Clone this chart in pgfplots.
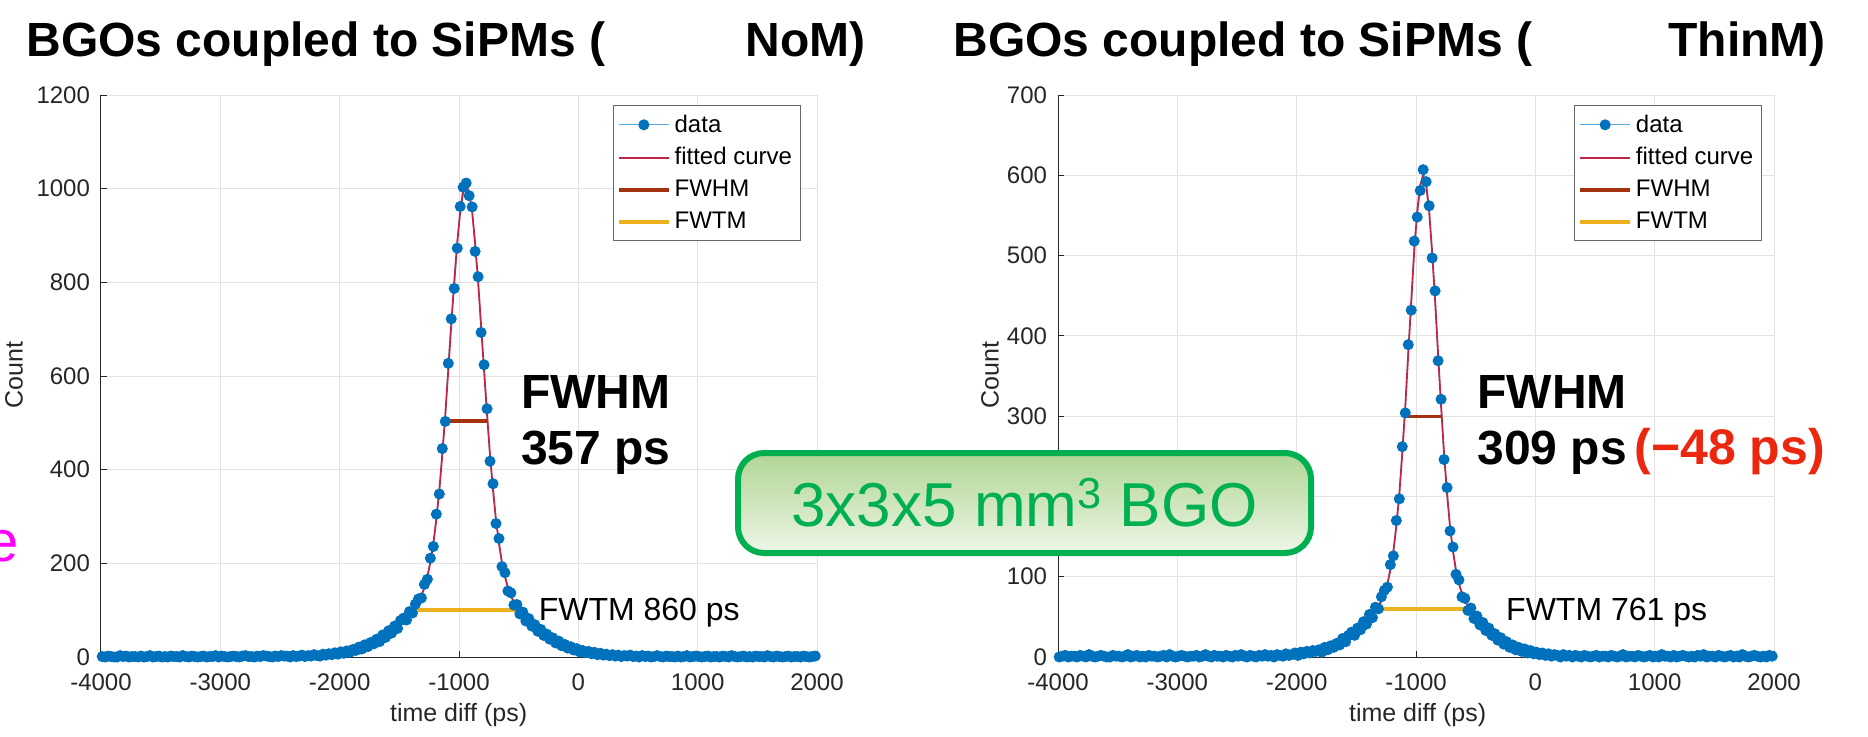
\documentclass[border=0pt]{standalone}
\usepackage{fontspec}
\setmainfont{Liberation Sans}
\usepackage{pgfplots}
\pgfplotsset{compat=1.18}
\definecolor{mblue}{RGB}{0,114,189}
\definecolor{lblue}{RGB}{90,170,225}
\definecolor{fitred}{RGB}{190,40,70}
\definecolor{fwhmc}{RGB}{165,50,15}
\definecolor{fwtmc}{RGB}{237,177,32}
\definecolor{gridc}{RGB}{226,226,226}
\definecolor{axc}{RGB}{38,38,38}
\definecolor{boxg}{RGB}{0,176,80}
\definecolor{boxtop}{RGB}{176,213,148}
\definecolor{boxbot}{RGB}{237,246,231}
\definecolor{redt}{RGB}{235,40,15}
\definecolor{magc}{RGB}{255,0,255}
\pgfplotsset{
 myaxis/.style={
  scale only axis, width=358pt, height=281pt,
  xmin=-4000, xmax=2000, xtick={-4000,-3000,...,2000},
  axis x line*=bottom, axis y line*=left,
  axis line style={axc, line width=0.5pt},
  grid=major, major grid style={gridc, line width=0.5pt},
  tick style={axc, line width=0.5pt}, major tick length=3pt,
  tick align=inside,
  ticklabel style={font=\fontsize{12}{13}\selectfont, text=axc},
  xticklabel style={yshift=-5pt},
  yticklabel style={xshift=-2pt},
  /pgf/number format/assume math mode=true,
  /pgf/number format/1000 sep={},
  scaled ticks=false,
  legend cell align=left,
  legend style={anchor=north east, draw=axc!70, fill=white, line width=0.5pt,
    font=\fontsize{12}{14}\selectfont, inner xsep=2pt, inner ysep=2.5pt, row sep=2.2pt},
  legend image code/.code={\draw[mark repeat=2,mark phase=2,##1] plot coordinates {(0pt,0pt) (12.5pt,0pt) (25pt,0pt)};},
 },
 dataplot/.style={lblue, line width=0.5pt, mark=*, mark size=2.5pt, mark options={draw=mblue, fill=mblue, solid}},
 fitplot/.style={fitred, line width=0.9pt},
}
\begin{document}
\begin{tikzpicture}
\useasboundingbox (0,0) rectangle (934pt,368pt);
% ---------------- left: NoM
\begin{axis}[myaxis, at={(50.5pt,39.5pt)}, anchor=south west,
  ymin=0, ymax=1200, ytick={0,200,...,1200},
  legend style={at={(0.977,0.982)}}]
\addplot[dataplot] coordinates {
(-3990,1)(-3965,0)(-3940,2)(-3915,1)(-3890,0)(-3865,0)(-3840,3)(-3815,1)(-3790,2)(-3765,0)
(-3740,1)(-3715,1)(-3690,0)(-3665,2)(-3640,0)(-3615,1)(-3590,3)(-3565,0)(-3540,1)(-3515,2)
(-3490,0)(-3465,1)(-3440,0)(-3415,2)(-3390,1)(-3365,1)(-3340,0)(-3315,3)(-3290,1)(-3265,0)
(-3240,2)(-3215,1)(-3190,0)(-3165,1)(-3140,2)(-3115,0)(-3090,1)(-3065,1)(-3040,3)(-3015,0)
(-2990,2)(-2965,1)(-2940,0)(-2915,1)(-2890,2)(-2865,1)(-2840,0)(-2815,2)(-2790,3)(-2765,1)
(-2740,1)(-2715,0)(-2690,2)(-2665,1)(-2640,3)(-2615,2)(-2590,1)(-2565,0)(-2540,2)(-2515,1)
(-2490,3)(-2465,2)
(-2440,2)(-2415,0)(-2390,3)(-2365,1)(-2340,2)(-2315,4)(-2290,1)(-2265,3)(-2240,2)(-2215,5)
(-2190,3)(-2165,2)(-2140,6)(-2115,4)(-2090,7)(-2065,5)(-2040,9)(-2015,6)(-1990,11)(-1965,8)
(-1940,13)(-1915,10)(-1890,16)(-1865,14)(-1840,21)(-1815,17)(-1790,26)(-1765,22)(-1740,31)(-1715,28)
(-1690,38)(-1665,33)(-1640,47)(-1615,42)(-1590,56)(-1565,51)(-1540,66)(-1515,61)(-1490,78)(-1465,83)
(-1440,79)(-1415,97)(-1390,94)(-1365,113)(-1340,124)(-1315,126)(-1290,155)(-1265,166)(-1240,211)(-1215,236)
(-1190,305)(-1165,348)(-1140,445)(-1115,503)(-1090,627)(-1065,722)(-1040,787)(-1015,873)(-990,962)(-965,1003)
(-940,1012)
(-915,985)(-890,961)(-865,866)(-840,812)(-815,693)(-790,624)(-765,530)(-740,418)(-715,370)(-690,285)
(-665,253)(-640,193)(-615,180)(-590,141)(-565,137)(-540,111)(-515,112)(-490,92)(-465,96)(-440,77)
(-415,82)(-390,66)(-365,69)(-340,55)(-315,59)(-290,46)(-265,49)(-240,38)(-215,41)(-190,30)
(-165,34)(-140,24)(-115,27)(-90,19)(-65,22)(-40,15)(-15,18)(10,11)(35,14)(60,9)
(85,12)(110,7)(135,10)(160,5)(185,8)(210,4)(235,6)(260,3)(285,5)(310,2)
(335,4)(360,1)(385,3)(410,2)(435,4)(460,1)(485,2)(510,0)(535,3)(560,1)
(585,2)(610,0)(635,1)(660,3)(685,1)(710,0)(735,2)(760,1)(785,1)(810,0)
(835,2)(860,0)(885,1)(910,3)(935,0)(960,1)(985,2)(1010,1)(1035,0)(1060,1)
(1085,2)(1110,0)(1135,1)(1160,1)(1185,0)(1210,2)(1235,1)(1260,0)(1285,3)(1310,1)
(1335,0)(1360,1)(1385,2)(1410,0)(1435,1)(1460,0)(1485,2)(1510,1)(1535,1)(1560,0)
(1585,3)(1610,1)(1635,0)(1660,2)(1685,1)(1710,0)(1735,1)(1760,2)(1785,0)(1810,1)
(1835,1)(1860,0)(1885,2)(1910,1)(1935,0)(1960,1)(1985,2)
};
\addplot[fitplot] coordinates {
(-4000,0)(-3440,0.02)(-2940,0.2)(-2740,0.4)(-2640,0.5)(-2540,0.7)(-2490,1.0)
(-2440,1.2)(-2415,1.3)(-2390,1.4)(-2365,1.55)(-2340,1.7)(-2315,1.9)(-2290,2.1)(-2265,2.4)(-2240,2.7)(-2215,2.9)
(-2190,3.2)(-2165,3.7)(-2140,4.1)(-2115,4.6)(-2090,5.2)(-2065,5.9)(-2040,6.6)(-2015,7.5)(-1990,8.4)(-1965,9.5)
(-1940,10.7)(-1915,12.1)(-1890,13.6)(-1865,15.3)(-1840,17.3)(-1815,19.4)(-1790,21.8)(-1765,24.3)(-1740,27.1)(-1715,30.2)
(-1690,33.5)(-1665,37.3)(-1640,41.2)(-1615,45.3)(-1590,49.8)(-1565,54.5)(-1540,59.5)(-1515,64.7)(-1490,70.5)(-1465,76.3)
(-1440,82.7)(-1415,89.6)(-1390,97.3)(-1365,106.3)(-1340,117.1)(-1315,130.7)(-1290,148.3)(-1265,171.6)(-1240,202.2)(-1215,242.2)
(-1190,293.1)(-1165,356.2)(-1140,431.4)(-1115,517.6)(-1090,611.4)(-1065,708.2)(-1040,801.7)(-1015,884.7)(-990,950.5)(-965,992.5)
(-940,1007.0)
(-915,992.5)(-890,950.5)(-865,884.7)(-840,801.7)(-815,708.2)(-790,611.4)(-765,517.6)(-740,431.4)(-715,356.2)(-690,293.1)
(-665,242.2)(-640,202.2)(-615,171.6)(-590,148.3)(-565,130.7)(-540,117.1)(-515,106.3)(-490,97.3)(-465,89.6)(-440,82.7)
(-415,76.3)(-390,70.5)(-365,64.7)(-340,59.5)(-315,54.5)(-290,49.8)(-265,45.3)(-240,41.2)(-215,37.3)(-190,33.5)
(-165,30.2)(-140,27.1)(-115,24.3)(-90,21.8)(-65,19.4)(-40,17.3)(-15,15.3)(10,13.6)(35,12.1)(60,10.7)
(85,9.5)(110,8.4)(135,7.5)(160,6.6)(185,5.9)(210,5.2)(235,4.6)(260,4.1)(285,3.7)(310,3.2)
(335,2.9)(360,2.7)(385,2.4)(410,2.1)(435,1.9)(460,1.7)(485,1.55)(510,1.4)(535,1.3)(560,1.2)
(610,1.0)(660,0.7)(760,0.5)(860,0.4)(1060,0.2)(1560,0.02)(2000,0)
};
\addplot[fwhmc, line width=1.8pt] coordinates {(-1118.5,503.5) (-761.5,503.5)};
\addplot[fwtmc, line width=1.8pt] coordinates {(-1370,100.7) (-510,100.7)};
\legend{data, fitted curve, FWHM, FWTM}
\end{axis}
% ---------------- right: ThinM
\begin{axis}[myaxis, at={(529pt,39.5pt)}, anchor=south west,
  ymin=0, ymax=700, ytick={0,100,...,700},
  legend style={at={(0.983,0.982)}}]
\addplot[dataplot] coordinates {
(-3990,0)(-3965,1)(-3940,2)(-3915,0)(-3890,1)(-3865,1)(-3840,0)(-3815,2)(-3790,1)(-3765,0)
(-3740,3)(-3715,1)(-3690,0)(-3665,1)(-3640,2)(-3615,1)(-3590,0)(-3565,0)(-3540,2)(-3515,1)
(-3490,1)(-3465,0)(-3440,1)(-3415,3)(-3390,0)(-3365,1)(-3340,2)(-3315,0)(-3290,1)(-3265,0)
(-3240,2)(-3215,1)(-3190,1)(-3165,0)(-3140,1)(-3115,2)(-3090,0)(-3065,3)(-3040,1)(-3015,0)
(-2990,1)(-2965,2)(-2940,1)(-2915,0)(-2890,1)(-2865,1)(-2840,2)(-2815,0)(-2790,1)(-2765,3)
(-2740,1)(-2715,0)(-2690,2)(-2665,1)(-2640,1)(-2615,0)(-2590,2)(-2565,1)(-2540,0)(-2515,2)
(-2490,1)(-2465,3)
(-2440,1)(-2415,0)(-2390,2)(-2365,1)(-2340,0)(-2315,2)(-2290,1)(-2265,3)(-2240,1)(-2215,2)
(-2190,0)(-2165,3)(-2140,2)(-2115,1)(-2090,4)(-2065,2)(-2040,3)(-2015,5)(-1990,2)(-1965,6)
(-1940,4)(-1915,7)(-1890,5)(-1865,8)(-1840,7)(-1815,9)(-1790,6)(-1765,12)(-1740,9)(-1715,14)
(-1690,12)(-1665,17)(-1640,15)(-1615,23)(-1590,19)(-1565,27)(-1540,31)(-1515,27)(-1490,36)(-1465,34)
(-1440,44)(-1415,41)(-1390,53)(-1365,49)(-1340,62)(-1315,60)(-1290,75)(-1265,83)(-1240,87)(-1215,115)
(-1190,126)(-1165,170)(-1140,197)(-1115,262)(-1090,304)(-1065,389)(-1040,432)(-1015,518)(-990,548)(-965,581)
(-940,607)
(-915,592)(-890,562)(-865,497)(-840,456)(-815,369)(-790,321)(-765,246)(-740,211)(-715,157)(-690,137)
(-665,103)(-640,96)(-615,75)(-590,73)(-565,58)(-540,61)(-515,48)(-490,51)(-465,40)(-440,43)
(-415,33)(-390,36)(-365,27)(-340,29)(-315,21)(-290,24)(-265,16)(-240,19)(-215,12)(-190,15)
(-165,9)(-140,12)(-115,7)(-90,10)(-65,5)(-40,8)(-15,4)(10,6)(35,3)(60,5)
(85,2)(110,4)(135,1)(160,3)(185,2)(210,0)(235,3)(260,1)(285,2)(310,0)
(335,2)(360,1)(385,0)(410,2)(435,1)(460,0)(485,1)(510,2)(535,0)(560,1)
(585,1)(610,0)(635,2)(660,1)(685,0)(710,1)(735,3)(760,0)(785,1)(810,1)
(835,0)(860,2)(885,1)(910,0)(935,1)(960,2)(985,0)(1010,1)(1035,0)(1060,3)
(1085,1)(1110,1)(1135,0)(1160,2)(1185,0)(1210,1)(1235,2)(1260,1)(1285,0)(1310,1)
(1335,0)(1360,2)(1385,1)(1410,3)(1435,0)(1460,1)(1485,1)(1510,0)(1535,2)(1560,1)
(1585,0)(1610,1)(1635,2)(1660,0)(1685,1)(1710,0)(1735,3)(1760,1)(1785,0)(1810,1)
(1835,2)(1860,1)(1885,0)(1910,1)(1935,0)(1960,2)(1985,1)
};
\addplot[fitplot] coordinates {
(-4000,0)(-3140,0.05)(-2740,0.1)(-2540,0.2)(-2440,0.3)(-2340,0.5)(-2240,0.8)(-2190,1.0)(-2140,1.2)
(-2115,1.4)(-2090,1.6)(-2065,1.8)(-2040,2.0)(-2015,2.3)(-1990,2.6)(-1965,3.0)(-1940,3.4)(-1915,3.9)(-1890,4.4)
(-1865,5.2)(-1840,5.9)(-1815,6.7)(-1790,7.7)(-1765,8.9)(-1740,10.1)(-1715,11.5)(-1690,13.1)(-1665,14.8)(-1640,16.9)
(-1615,19.0)(-1590,21.4)(-1565,23.9)(-1540,26.6)(-1515,29.7)(-1490,32.9)(-1465,36.3)(-1440,39.9)(-1415,43.8)(-1390,47.9)
(-1365,52.3)(-1340,57.3)(-1315,63.0)(-1290,70.0)(-1265,79.0)(-1240,91.2)(-1215,108.1)(-1190,131.3)(-1165,162.5)(-1140,203.2)
(-1115,253.5)(-1090,312.4)(-1065,377.4)(-1040,443.4)(-1015,505.0)(-990,555.1)(-965,588.1)
(-940,599.5)
(-915,588.1)(-890,555.1)(-865,505.0)(-840,443.4)(-815,377.4)(-790,312.4)(-765,253.5)(-740,203.2)(-715,162.5)(-690,131.3)
(-665,108.1)(-640,91.2)(-615,79.0)(-590,70.0)(-565,63.0)(-540,57.3)(-515,52.3)(-490,47.9)(-465,43.8)(-440,39.9)
(-415,36.3)(-390,32.9)(-365,29.7)(-340,26.6)(-315,23.9)(-290,21.4)(-265,19.0)(-240,16.9)(-215,14.8)(-190,13.1)
(-165,11.5)(-140,10.1)(-115,8.9)(-90,7.7)(-65,6.7)(-40,5.9)(-15,5.2)(10,4.4)(35,3.9)(60,3.4)
(85,3.0)(110,2.6)(135,2.3)(160,2.0)(185,1.8)(210,1.6)(235,1.4)
(260,1.2)(310,1.0)(360,0.8)(460,0.5)(560,0.3)(660,0.2)(860,0.1)(1260,0.03)(2000,0)
};
\addplot[fwhmc, line width=1.8pt] coordinates {(-1094.5,299.75) (-785.5,299.75)};
\addplot[fwtmc, line width=1.8pt] coordinates {(-1320.5,60) (-559.5,60)};
\legend{data, fitted curve, FWHM, FWTM}
\end{axis}
% ---------------- titles and labels
\node[anchor=base west, inner sep=0, font=\fontsize{24}{28}\selectfont\bfseries] at (13pt,340pt) {BGOs coupled to SiPMs (};
\node[anchor=base east, inner sep=0, font=\fontsize{24}{28}\selectfont\bfseries] at (433pt,340pt) {NoM)};
\node[anchor=base west, inner sep=0, font=\fontsize{24}{28}\selectfont\bfseries] at (476.5pt,340pt) {BGOs coupled to SiPMs (};
\node[anchor=base east, inner sep=0, font=\fontsize{24}{28}\selectfont\bfseries] at (913pt,340pt) {ThinM)};
\node[rotate=90, font=\fontsize{12.5}{14}\selectfont, text=axc] at (7pt,180.5pt) {Count};
\node[rotate=90, font=\fontsize{12.5}{14}\selectfont, text=axc] at (495pt,180.5pt) {Count};
\node[font=\fontsize{12.5}{14}\selectfont, text=axc] at (229.3pt,10.6pt) {time diff (ps)};
\node[font=\fontsize{12.5}{14}\selectfont, text=axc] at (708.8pt,10.6pt) {time diff (ps)};
\node[anchor=base west, inner sep=0, font=\fontsize{24}{28}\selectfont\bfseries] at (260.3pt,163.7pt) {FWHM};
\node[anchor=base west, inner sep=0, font=\fontsize{24}{28}\selectfont\bfseries] at (260.3pt,135.7pt) {357 ps};
\node[anchor=base west, inner sep=0, font=\fontsize{24}{28}\selectfont\bfseries] at (738.5pt,163.7pt) {FWHM};
\node[anchor=base west, inner sep=0, font=\fontsize{24}{28}\selectfont\bfseries] at (738.5pt,135.7pt) {309 ps};
\node[anchor=base west, inner sep=0, font=\fontsize{25}{28}\selectfont\bfseries, text=redt] at (817pt,135.7pt) {(−48 ps)};
\node[anchor=base west, inner sep=0, font=\fontsize{16}{19}\selectfont] at (269.2pt,57.7pt) {FWTM 860 ps};
\node[anchor=base west, inner sep=0, font=\fontsize{16}{19}\selectfont] at (752.9pt,57.7pt) {FWTM 761 ps};
\node[anchor=base east, inner sep=0, text=magc, font=\fontsize{29}{34}\selectfont] at (9.5pt,87.5pt) {e};
\node[draw=boxg, line width=3pt, rounded corners=13pt, top color=boxtop, bottom color=boxbot,
  minimum width=286.5pt, minimum height=50pt, inner sep=0, text=boxg,
  font=\fontsize{31}{36}\selectfont] at (512.25pt,116.5pt) {3x3x5 mm\textsuperscript{3} BGO};
\end{tikzpicture}
\end{document}
